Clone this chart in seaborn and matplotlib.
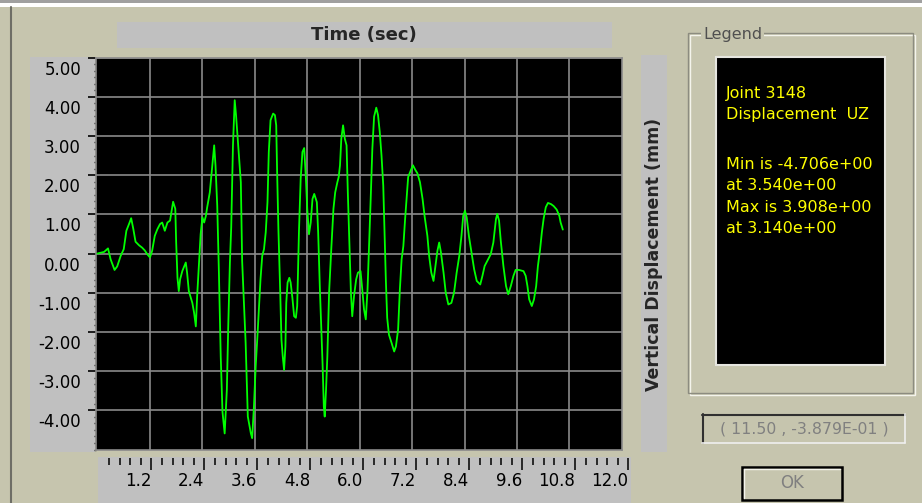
import matplotlib
matplotlib.use("Agg")
import matplotlib.pyplot as plt
from matplotlib.patches import Rectangle
from matplotlib.lines import Line2D
from matplotlib.ticker import FixedLocator, MultipleLocator
import matplotlib.transforms as mtransforms
import pandas as pd
import seaborn as sns

# ---------------- data ----------------
time_s = [0.00, 0.15, 0.24, 0.30, 0.39, 0.45, 0.53, 0.60, 0.66, 0.72, 0.77, 0.82, 0.87, 0.95,
          1.02, 1.08, 1.14, 1.20, 1.25, 1.31, 1.37, 1.43, 1.48, 1.54, 1.60, 1.66, 1.69, 1.73,
          1.78, 1.80, 1.83, 1.86, 1.89, 1.94, 2.02, 2.05, 2.09, 2.17, 2.21, 2.25, 2.28, 2.32,
          2.36, 2.40, 2.44, 2.48, 2.51, 2.57, 2.63, 2.67, 2.70, 2.74, 2.78, 2.82, 2.86, 2.91,
          2.96, 2.99, 3.03, 3.06, 3.10, 3.14, 3.17, 3.22, 3.28, 3.31, 3.35, 3.39, 3.44, 3.51,
          3.54, 3.58, 3.62, 3.66, 3.70, 3.73, 3.77, 3.81, 3.85, 3.89, 3.92, 3.96, 4.02, 4.06,
          4.09, 4.11, 4.14, 4.18, 4.21, 4.24, 4.27, 4.30, 4.32, 4.35, 4.39, 4.42, 4.46, 4.50,
          4.54, 4.57, 4.61, 4.65, 4.69, 4.73, 4.77, 4.80, 4.84, 4.88, 4.92, 4.96, 5.02, 5.05,
          5.09, 5.15, 5.18, 5.20, 5.23, 5.26, 5.30, 5.35, 5.40, 5.44, 5.49, 5.52, 5.55, 5.58,
          5.62, 5.66, 5.70, 5.73, 5.77, 5.80, 5.83, 5.87, 5.92, 5.96, 6.02, 6.06, 6.10, 6.14,
          6.18, 6.21, 6.25, 6.29, 6.33, 6.38, 6.42, 6.46, 6.50, 6.54, 6.57, 6.60, 6.63, 6.67,
          6.73, 6.79, 6.83, 6.88, 6.92, 6.96, 7.00, 7.04, 7.08, 7.11, 7.17, 7.22, 7.28, 7.32,
          7.38, 7.44, 7.49, 7.55, 7.59, 7.64, 7.69, 7.74, 7.78, 7.82, 7.86, 7.92, 7.97, 8.03,
          8.10, 8.16, 8.22, 8.28, 8.33, 8.37, 8.41, 8.45, 8.50, 8.56, 8.62, 8.68, 8.76, 8.81,
          8.86, 8.92, 9.00, 9.06, 9.12, 9.15, 9.19, 9.23, 9.29, 9.35, 9.40, 9.46, 9.52, 9.57,
          9.65, 9.75, 9.80, 9.84, 9.88, 9.94, 9.99, 10.04, 10.08, 10.13, 10.17, 10.21, 10.26,
          10.31, 10.38, 10.44, 10.51, 10.57, 10.60, 10.65]
uz_mm = [0.00, 0.04, 0.13, -0.15, -0.42, -0.33, -0.06, 0.11, 0.58, 0.75, 0.90, 0.62, 0.30, 0.21,
         0.15, 0.08, -0.02, -0.10, 0.07, 0.45, 0.62, 0.75, 0.79, 0.58, 0.79, 0.84, 1.05, 1.32,
         1.14, 0.28, -0.62, -0.96, -0.66, -0.45, -0.23, -0.49, -0.96, -1.26, -1.51, -1.86, -1.09, -0.32,
         0.49, 0.92, 0.79, 0.96, 1.18, 1.56, 2.29, 2.76, 2.25, 1.22, -0.57, -2.63, -4.04, -4.59,
         -3.48, -1.94, -0.23, 0.67, 2.76, 3.91, 3.53, 2.76, 1.82, -0.19, -1.26, -2.28, -4.16, -4.59,
         -4.71, -3.90, -2.88, -2.11, -1.26, -0.66, -0.06, 0.11, 0.54, 1.31, 2.59, 3.40, 3.57, 3.53,
         3.27, 2.12, 0.62, -0.92, -2.20, -2.63, -2.97, -2.37, -1.26, -0.74, -0.62, -0.74, -1.13, -1.60,
         -1.64, -1.34, 0.54, 1.91, 2.59, 2.69, 1.91, 1.14, 0.49, 0.79, 1.39, 1.52, 1.31, 0.54,
         -0.92, -2.79, -3.91, -4.16, -3.48, -2.63, -1.00, 0.11, 1.14, 1.56, 1.82, 1.95, 2.25, 2.93,
         3.27, 2.93, 2.76, 1.52, 0.11, -1.00, -1.60, -1.09, -0.66, -0.49, -0.45, -0.92, -1.43, -1.68,
         -0.92, 0.03, 1.31, 2.67, 3.49, 3.72, 3.53, 3.10, 2.50, 1.73, 0.54, -0.70, -1.64, -2.07,
         -2.28, -2.50, -2.37, -1.94, -0.92, -0.15, 0.19, 0.88, 1.48, 1.95, 2.12, 2.25, 2.12, 2.05,
         1.82, 1.39, 0.92, 0.45, -0.06, -0.49, -0.70, -0.27, 0.07, 0.28, 0.03, -0.49, -1.00, -1.30,
         -1.26, -1.00, -0.49, -0.06, 0.45, 0.96, 1.09, 0.92, 0.45, 0.03, -0.40, -0.70, -0.79, -0.57,
         -0.32, -0.19, -0.02, 0.28, 0.88, 1.01, 0.84, 0.32, -0.32, -0.83, -1.04, -0.83, -0.57, -0.42,
         -0.42, -0.45, -0.57, -0.83, -1.17, -1.34, -1.17, -0.83, -0.32, 0.11, 0.54, 0.88, 1.18,
         1.29, 1.26, 1.21, 1.12, 0.96, 0.79, 0.61]

y_ticks = [-4, -3, -2, -1, 0, 1, 2, 3, 4, 5]
y_tick_labels = ["-4.00", "-3.00", "-2.00", "-1.00", "0.00", "1.00", "2.00", "3.00", "4.00", "5.00"]
x_ticks = [1.2, 2.4, 3.6, 4.8, 6.0, 7.2, 8.4, 9.6, 10.8, 12.0]
x_tick_labels = ["1.2", "2.4", "3.6", "4.8", "6.0", "7.2", "8.4", "9.6", "10.8", "12.0"]
x_minor_ticks = [round(0.24 * k, 2) for k in range(1, 51)]

title_text = "Time (sec)"
ylabel_text = "Vertical Displacement (mm)"
legend_title = "Legend"
legend_lines = ["Joint 3148", "Displacement  UZ", "Min is -4.706e+00", "at 3.540e+00",
                "Max is 3.908e+00", "at 3.140e+00"]
cursor_text = "( 11.50 , -3.879E-01 )"
button_text = "OK"

# ---------------- style ----------------
sns.set_style("dark")
plt.rcParams['font.family'] = ['DejaVu Sans']

W, H = 922, 503
BG = '#C6C5AE'
BAND = '#C0C0C0'

fig = plt.figure(figsize=(W / 100, H / 100), dpi=100, facecolor=BG)


def fx(x):
    return x / W


def fy(y):
    return 1 - y / H


def frect(x0, y0, x1, y1, z=-5, **kw):
    r = Rectangle((fx(x0), fy(y1)), (x1 - x0) / W, (y1 - y0) / H,
                  transform=fig.transFigure, zorder=z, **kw)
    fig.add_artist(r)
    return r


def fline(xs, ys, z=-4, **kw):
    ln = Line2D([fx(x) for x in xs], [fy(y) for y in ys], transform=fig.transFigure, zorder=z, **kw)
    fig.add_artist(ln)
    return ln


# window borders
frect(0, 0, W, 2.5, facecolor='#A0A0A0', edgecolor='none')
frect(0, 2.5, W, 7, facecolor='white', edgecolor='none')
fline([10.5, 10.5], [7, H], color='#6E6E66', lw=1.5)

# grey bands
frect(117, 21.7, 612, 47.7, facecolor=BAND, edgecolor='none')
frect(29.5, 57, 95, 451.7, facecolor=BAND, edgecolor='none')
frect(640.7, 55, 667, 451.7, facecolor=BAND, edgecolor='none')
frect(97.6, 456.7, 631, H, facecolor=BAND, edgecolor='none')

# ---------------- main plot ----------------
ax = fig.add_axes([fx(96), fy(449.5), (621.8 - 96) / W, (449.5 - 57.5) / H])
ax.set_facecolor('black')
df = pd.DataFrame({'t': time_s, 'uz': uz_mm})
sns.lineplot(data=df, x='t', y='uz', ax=ax, color='#00FF00', lw=1.3, estimator=None, sort=False, zorder=3)
ax.set_xlim(-0.035, 12.0)
ax.set_ylim(-5, 5)
ax.set_xlabel('')
ax.set_ylabel('')
ax.set_xticks(x_ticks[:-1])
ax.set_yticks(y_ticks)
ax.yaxis.set_minor_locator(MultipleLocator(1 / 6))
ax.grid(True, which='major', color='#8A8A8A', lw=1.2)
ax.set_axisbelow(True)
for s in ax.spines.values():
    s.set_visible(True)
    s.set_color('#8A8A8A')
    s.set_linewidth(1.2)
ax.tick_params(axis='x', which='both', length=0, labelbottom=False, bottom=False)
ax.tick_params(axis='y', which='major', direction='out', length=6, width=1.2, color='black',
               left=True, labelleft=False)
ax.tick_params(axis='y', which='minor', direction='out', length=1.8, width=1.0, color='#202020',
               left=True)

offset = mtransforms.ScaledTranslation(-15 / 100, -12 / 100, fig.dpi_scale_trans)
ytrans = mtransforms.blended_transform_factory(ax.transAxes, ax.transData) + offset
for v, lab in zip(y_ticks, y_tick_labels):
    ax.text(0, v, lab, transform=ytrans, ha='right', va='center', fontsize=12, color='black')

# ---------------- x ruler ----------------
rax = fig.add_axes([fx(97.6), fy(458), (631 - 97.6) / W, 0.001])
rax.patch.set_visible(False)
for s in rax.spines.values():
    s.set_visible(False)
rax.set_xlim(-0.02, 12.06)
rax.set_yticks([])
rax.xaxis.set_major_locator(FixedLocator(x_ticks))
rax.xaxis.set_minor_locator(FixedLocator(x_minor_ticks))
rax.set_xticklabels(x_tick_labels, ha='right')
rax.tick_params(axis='x', which='major', direction='out', length=8.6, width=1.1, color='black',
                pad=1.5, labelsize=12, bottom=True, labelcolor='black')
rax.tick_params(axis='x', which='minor', direction='out', length=5.0, width=1.1, color='black',
                bottom=True)

# ---------------- titles ----------------
fig.text(fx(364), fy(35), title_text, ha='center', va='center', fontsize=13, fontweight='bold')
fig.text(fx(654), fy(254), ylabel_text, rotation=90, ha='center', va='center', fontsize=12.5,
         fontweight='bold')

# ---------------- legend panel ----------------
frect(688, 33, 913, 393, z=-4, facecolor='none', edgecolor='#8C8C80', lw=1.0)
frect(689.5, 34.5, 914.5, 394.5, z=-4.5, facecolor='none', edgecolor='#F4F4EC', lw=1.0)
fig.text(fx(703), fy(35), legend_title, ha='left', va='center', fontsize=11.5, color='#505050',
         bbox=dict(facecolor=BG, edgecolor='none', pad=1.5))
frect(715.7, 57, 885, 365, z=-3, facecolor='black', edgecolor='#E6E6E0', lw=1.5)
legend_y = [93.3, 115, 164.3, 185.5, 207, 229]
for txt, yy in zip(legend_lines, legend_y):
    fig.text(fx(726), fy(yy), txt, ha='left', va='center', fontsize=11.5, color='#FFFF00')

# cursor readout
frect(702, 414, 905, 443, z=-4, facecolor=BG, edgecolor='none')
fline([702, 905], [414.5, 414.5], z=-3, color='#303030', lw=1.5)
fline([702.5, 702.5], [414, 443], z=-3, color='#303030', lw=1.5)
fline([702, 905], [442.5, 442.5], z=-3, color='#F0F0F0', lw=1.2)
fline([904.5, 904.5], [414, 443], z=-3, color='#F0F0F0', lw=1.2)
fig.text(fx(804), fy(428.5), cursor_text, ha='center', va='center', fontsize=11.3, color='#808080')

# OK button
frect(741.7, 467, 841.7, 500, z=-4, facecolor=BG, edgecolor='black', lw=1.8)
fline([743.5, 840], [469, 469], z=-3, color='#F4F4EC', lw=1.0)
fline([743.5, 743.5], [469, 498], z=-3, color='#F4F4EC', lw=1.0)
fig.text(fx(791.7), fy(483), button_text, ha='center', va='center', fontsize=12, color='#808080')

fig.savefig('out.png', dpi=100, facecolor=BG)
